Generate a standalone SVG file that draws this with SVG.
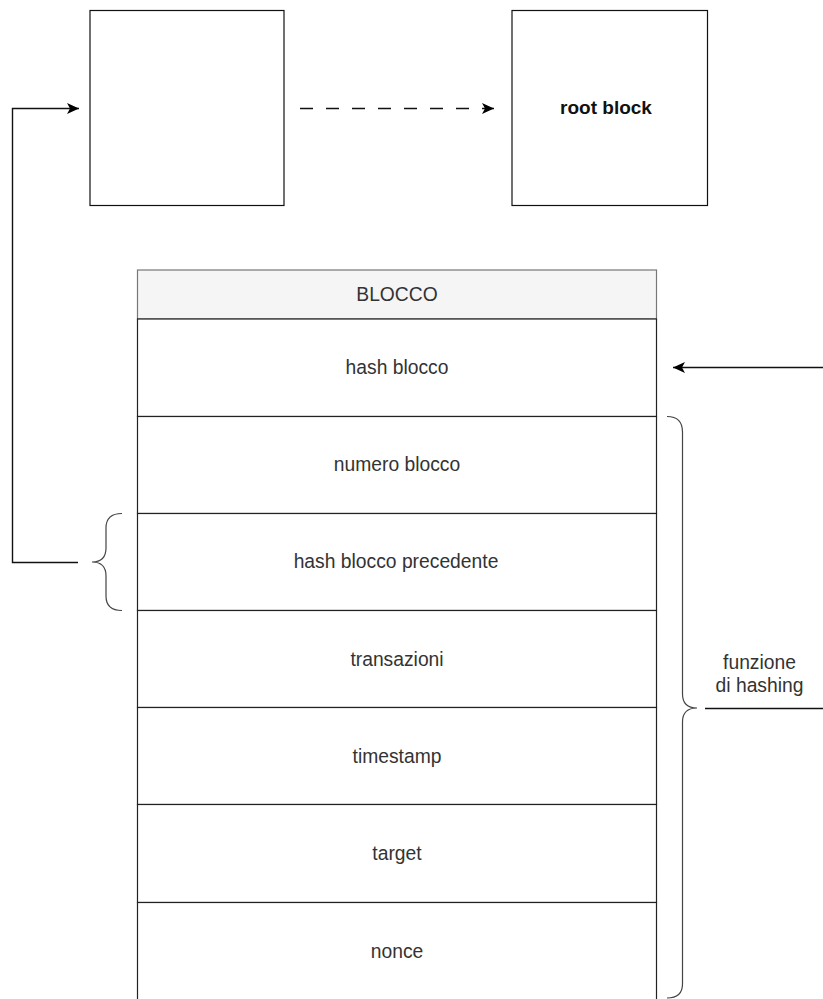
<svg xmlns="http://www.w3.org/2000/svg" width="823" height="999" viewBox="0 0 823 999">
<defs>
<marker id="ah" viewBox="0 0 12 12" refX="12" refY="6" markerWidth="12" markerHeight="12" markerUnits="userSpaceOnUse" orient="auto">
<path d="M0,0.5 L12,6 L0,11.5 L3,6 Z" fill="#000"/>
</marker>
<style>
.box{fill:#fff;stroke:#111;stroke-width:1.2}
.row{fill:#fff;stroke:#222;stroke-width:1.2}
.t{font-family:"Liberation Sans",Arial,sans-serif;font-size:19.3px;fill:#333;text-anchor:middle}
.conn{fill:none;stroke:#111;stroke-width:1.4}
.brace{fill:none;stroke:#444;stroke-width:1.2}
</style>
</defs>
<rect width="823" height="999" fill="#fff"/>
<g id="block1"><rect class="box" x="90" y="10.5" width="194" height="195"/></g>
<g id="rootblock"><rect class="box" x="512" y="10.5" width="195.5" height="195"/>
<text class="t" x="606" y="114" style="font-weight:bold;fill:#111;font-size:19px">root block</text></g>
<g id="blocco">
<rect x="137.5" y="270" width="519" height="49" fill="#f5f5f5" stroke="#777" stroke-width="1.2"/>
<text class="t" x="397" y="301">BLOCCO</text>
<rect class="row" x="137.5" y="319" width="519" height="97.5"/>
<text class="t" x="397" y="373.5">hash blocco</text>
<rect class="row" x="137.5" y="416.5" width="519" height="97"/>
<text class="t" x="397" y="470.5">numero blocco</text>
<rect class="row" x="137.5" y="513.5" width="519" height="97"/>
<text class="t" x="396" y="568">hash blocco precedente</text>
<rect class="row" x="137.5" y="610.5" width="519" height="97"/>
<text class="t" x="397" y="665.5">transazioni</text>
<rect class="row" x="137.5" y="707.5" width="519" height="97"/>
<text class="t" x="397" y="762.5">timestamp</text>
<rect class="row" x="137.5" y="804.5" width="519" height="98"/>
<text class="t" x="397" y="859.5">target</text>
<rect class="row" x="137.5" y="902.5" width="519" height="100"/>
<text class="t" x="397" y="958">nonce</text>
</g>
<g id="brace-left"><path class="brace" d="M122,513.5 Q106,513.5 106,528 L106,548 Q106,562 92,562 Q106,562 106,576 L106,596 Q106,610.5 122,610.5"/></g>
<g id="brace-right"><path class="brace" d="M667,416.5 Q682.5,416.5 682.5,432 L682.5,694 Q682.5,708 697,708 Q682.5,708 682.5,722 L682.5,984 Q682.5,998 667,998"/></g>
<g id="label-hashing">
<text class="t" x="759.5" y="669">funzione</text>
<text class="t" x="759.5" y="692">di hashing</text>
</g>
<g id="connectors">
<path class="conn" d="M78,562.5 L12.5,562.5 L12.5,108.5 L79,108.5" marker-end="url(#ah)"/>
<path class="conn" d="M300,108.5 L494,108.5" stroke-dasharray="13 13" marker-end="url(#ah)"/>
<path class="conn" d="M823,367.5 L673,367.5" marker-end="url(#ah)"/>
<path class="conn" d="M705,708.5 L823,708.5"/>
</g>
</svg>
